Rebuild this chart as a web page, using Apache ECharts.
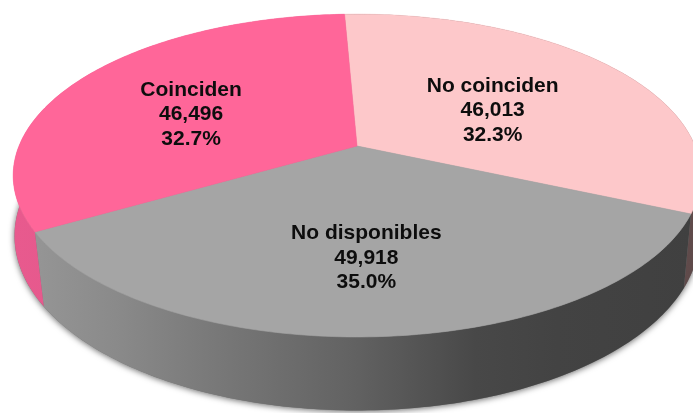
<!DOCTYPE html>
<html>
<head>
<meta charset="utf-8">
<style>html,body{margin:0;padding:0;background:#fff}#c{width:693px;height:413px}</style>
<script src="https://cdn.jsdelivr.net/npm/echarts@6/dist/echarts.min.js"></script>
</head>
<body>
<div id="c"></div>
<script>
var categories = ['No coinciden', 'No disponibles', 'Coinciden'];
var values = [46013, 49918, 46496];
var percentLabels = ['32.3%', '35.0%', '32.7%'];

var topColors = ['#FDC8CA', '#A5A5A5', '#FF6699'];
var labelNudge = [[-22, 14], [-3, 7], [3, 11]];
var startDeg = -2.5;
var rim = {cx: 357, cy: 146, rx: 338, ry: 156, k: 0.183};
var base = {cx: 357, cy: 215, rx: 340, ry: 172, k: 0.12};

var total = values.reduce(function (a, b) { return a + b; }, 0);
var spans = [], acc = startDeg;
values.forEach(function (v) {
  var sweep = v / total * 360;
  spans.push([acc, acc + sweep]);
  acc += sweep;
});

function project(g, deg, f) {
  var a = deg * Math.PI / 180, u = Math.sin(a) * f, w = -Math.cos(a) * f, d = 1 - g.k * w;
  return [g.cx + g.rx * u / d, g.cy + g.ry * w / d];
}
function arc(g, from, to) {
  var pts = [], n = Math.max(2, Math.ceil(Math.abs(to - from)));
  for (var i = 0; i <= n; i++) pts.push(project(g, from + (to - from) * i / n, 1));
  return pts;
}
function gradient(stops) {
  return {type: 'linear', x: 14, y: 0, x2: 693, y2: 0, global: true,
    colorStops: stops.map(function (s) { return {offset: s[0], color: s[1]}; })};
}
var wallFills = [
  gradient([[0, '#7a6262'], [1, '#5f4a4a']]),
  gradient([[0, '#989898'], [0.15, '#8a8a8a'], [0.3, '#787878'], [0.5, '#626262'], [0.68, '#484848'], [0.8, '#434343'], [1, '#404040']]),
  gradient([[0, '#e85a8e'], [1, '#c04a78']])
];

var option = {
  animation: false,
  backgroundColor: '#ffffff',
  series: [
    {
      type: 'custom', name: 'walls', coordinateSystem: 'none', silent: true, z: 1,
      data: values.map(function (v, i) { return {name: categories[i], value: [i, v]}; }),
      renderItem: function (params) {
        var i = params.dataIndex, children = [];
        if (i === 0) {
          children.push({type: 'polygon', shape: {points: arc(base, 0, 360)},
            style: {fill: '#777', shadowBlur: 6, shadowColor: 'rgba(0,0,0,0.6)', shadowOffsetY: 1}});
        }
        var s = spans[i];
        children.push({type: 'polygon',
          shape: {points: arc(rim, s[0], s[1]).concat(arc(base, s[0], s[1]).reverse())},
          style: {fill: wallFills[i]}});
        return {type: 'group', children: children};
      }
    },
    {
      type: 'custom', name: 'tops', coordinateSystem: 'none', silent: true, z: 2,
      data: values.map(function (v, i) { return {name: categories[i], value: [i, v]}; }),
      renderItem: function (params) {
        var i = params.dataIndex, s = spans[i];
        var pts = [project(rim, 0, 0)].concat(arc(rim, s[0], s[1]));
        return {type: 'polygon', shape: {points: pts},
          style: {fill: topColors[i], stroke: topColors[i], lineWidth: 0.6}};
      }
    },
    {
      type: 'custom', name: 'labels', coordinateSystem: 'none', silent: true, z: 3,
      data: values.map(function (v, i) { return {name: categories[i], value: [i, v]}; }),
      renderItem: function (params) {
        var i = params.dataIndex, s = spans[i];
        var p = project(rim, (s[0] + s[1]) / 2, 0.6);
        return {type: 'text', x: p[0] + labelNudge[i][0], y: p[1] + labelNudge[i][1],
          style: {
            text: categories[i] + '\n' + values[i].toLocaleString('en-US') + '\n' + percentLabels[i],
            fill: '#0d0d0d', font: 'bold 21px "Liberation Sans", Arial, sans-serif',
            lineHeight: 24.5, align: 'center', verticalAlign: 'middle'
          }};
      }
    }
  ]
};
var chart = echarts.init(document.getElementById('c'), null, {renderer: 'canvas'});
chart.setOption(option);
</script>
</body>
</html>
